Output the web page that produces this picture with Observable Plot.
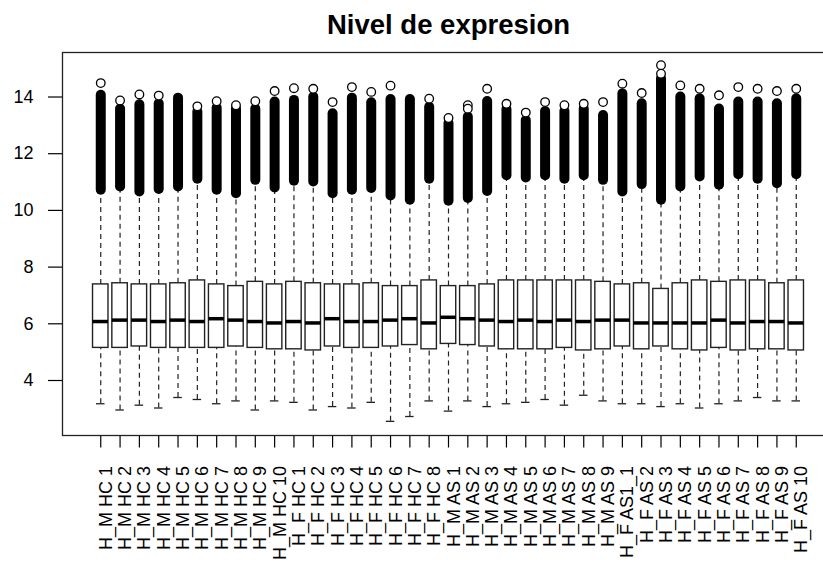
<!DOCTYPE html>
<html><head><meta charset="utf-8">
<script src="https://cdn.jsdelivr.net/npm/d3@7"></script>
<script src="https://cdn.jsdelivr.net/npm/@observablehq/plot@0.6"></script>
<style>body{margin:0;background:#fff;overflow:hidden} svg{overflow:hidden}</style>
</head><body><div id="chart"></div>
<script>
const title = "Nivel de expresion";
const labels = [
  "H_M HC 1","H_M HC 2","H_M HC 3","H_M HC 4","H_M HC 5","H_M HC 6","H_M HC 7","H_M HC 8","H_M HC 9","H_M HC 10",
  "H_F HC 1","H_F HC 2","H_F HC 3","H_F HC 4","H_F HC 5","H_F HC 6","H_F HC 7","H_F HC 8",
  "H_M AS 1","H_M AS 2","H_M AS 3","H_M AS 4","H_M AS 5","H_M AS 6","H_M AS 7","H_M AS 8","H_M AS 9",
  "H_F AS1_1","H_F AS 2","H_F AS 3","H_F AS 4","H_F AS 5","H_F AS 6","H_F AS 7","H_F AS 8","H_F AS 9","H_F AS 10"
];
const whiskLow = [3.18,2.96,3.13,3.03,3.40,3.33,3.18,3.28,2.96,3.28,3.23,
  2.96,3.08,3.03,3.23,2.56,2.73,3.28,2.92,3.28,3.08,3.18,3.23,3.33,3.13,3.48,3.28,
  3.18,3.18,3.08,3.18,3.03,3.18,3.28,3.40,3.28,3.28];
const q1 = [5.15,5.15,5.20,5.15,5.15,5.15,5.15,5.20,5.15,5.10,5.10,
  5.06,5.20,5.15,5.15,5.20,5.25,5.10,5.29,5.25,5.20,5.10,5.10,5.10,5.15,5.06,5.10,
  5.20,5.10,5.20,5.10,5.06,5.15,5.06,5.10,5.10,5.06];
const median = [6.08,6.13,6.13,6.08,6.13,6.08,6.18,6.13,6.08,6.03,6.08,
  6.03,6.18,6.08,6.08,6.13,6.18,6.03,6.23,6.18,6.13,6.08,6.13,6.08,6.13,6.08,6.13,
  6.13,6.03,6.03,6.03,6.03,6.13,6.03,6.08,6.08,6.03];
const q3 = [7.39,7.43,7.39,7.39,7.43,7.53,7.39,7.33,7.48,7.39,7.48,
  7.43,7.39,7.39,7.43,7.33,7.33,7.53,7.33,7.33,7.39,7.53,7.53,7.53,7.53,7.53,7.48,
  7.39,7.43,7.23,7.43,7.53,7.48,7.53,7.53,7.43,7.53];
const outLow = [10.71,10.83,10.65,10.74,10.83,11.10,10.71,10.59,11.06,10.79,11.03,
  11.00,10.59,10.71,10.77,10.51,10.36,11.10,10.32,10.42,10.67,11.22,11.14,11.22,11.10,11.22,11.06,
  10.65,10.91,10.36,10.83,11.18,10.89,11.26,11.10,10.94,11.26];
const outHigh = [14.06,13.58,13.73,13.76,13.96,13.47,13.61,13.58,13.58,13.82,13.88,
  14.00,13.41,13.96,13.80,13.91,13.91,13.64,13.06,13.29,13.84,13.56,13.17,13.49,13.49,13.58,13.35,
  14.11,13.76,14.64,14.00,13.94,13.58,13.82,13.82,13.76,13.94];
const topOutlier = [14.49,13.88,14.09,14.05,null,13.67,13.85,13.71,13.85,14.21,14.31,
  14.29,13.82,14.35,14.18,14.40,null,13.94,13.26,13.71,14.29,13.76,13.45,13.82,13.71,13.76,13.82,
  14.47,14.14,15.12,14.41,14.29,14.06,14.35,14.29,14.21,14.29];
const extraOutlierBox = [20, 30];
const extraOutlierValue = [13.59, 14.82];
const yTicks = [4, 6, 8, 10, 12, 14];

const rows = labels.map((name, i) => ({
  name, x: i + 1, wl: whiskLow[i], q1: q1[i], med: median[i], q3: q3[i],
  ol: outLow[i], oh: outHigh[i]
}));
const points = labels.map((name, i) => ({x: i + 1, y: topOutlier[i]})).filter(d => d.y != null)
  .concat(extraOutlierBox.map((b, j) => ({x: b, y: extraOutlierValue[j]})));

const chart = Plot.plot({
  width: 823, height: 565,
  marginLeft: 62, marginRight: -11, marginTop: 52, marginBottom: 130,
  style: {fontFamily: "'Liberation Sans', Arial, sans-serif", background: "#fff", overflow: "hidden", color: "#000"},
  x: {type: "linear", domain: [-0.98, 38.98], axis: null, label: null},
  y: {domain: [2.06, 15.57], axis: null, label: null},
  marks: [
    Plot.axisY(yTicks, {tickSize: 14, tickPadding: 15, fontSize: 18, strokeWidth: 1.2, label: null}),
    Plot.axisX(rows.map(d => d.x), {tickSize: 12.5, tickFormat: () => "", strokeWidth: 1.2, label: null}),
    Plot.text(rows, {x: "x", frameAnchor: "bottom", text: "name", rotate: -90, textAnchor: "end",
      lineAnchor: "bottom", dy: 30.5, dx: 11, fontSize: 18, fill: "#000"}),
    Plot.text([title], {frameAnchor: "top", dy: -19, lineAnchor: "bottom", fontSize: 27.5, fontWeight: "bold", fill: "#000"}),
    Plot.ruleX(rows, {x: "x", y1: "wl", y2: "q1", stroke: "#222", strokeWidth: 1.2, strokeDasharray: "5,4"}),
    Plot.ruleX(rows, {x: "x", y1: "q3", y2: "ol", stroke: "#222", strokeWidth: 1.2, strokeDasharray: "5,4"}),
    Plot.ruleY(rows, {y: "wl", x1: d => d.x - 0.22, x2: d => d.x + 0.22, stroke: "#222", strokeWidth: 1.3}),
    Plot.rect(rows, {x1: d => d.x - 0.4, x2: d => d.x + 0.4, y1: "q1", y2: "q3", fill: "white", stroke: "#222", strokeWidth: 1.4}),
    Plot.ruleY(rows, {y: "med", x1: d => d.x - 0.4, x2: d => d.x + 0.4, stroke: "#000", strokeWidth: 3.5}),
    Plot.ruleX(rows, {x: "x", y1: "ol", y2: "oh", stroke: "#000", strokeWidth: 10, strokeLinecap: "round"}),
    Plot.dot(points, {x: "x", y: "y", r: 4.3, stroke: "#000", fill: "white", strokeWidth: 1.3}),
    Plot.frame({stroke: "#222", strokeWidth: 1.3})
  ]
});
document.getElementById("chart").appendChild(chart);
</script>
</body></html>
